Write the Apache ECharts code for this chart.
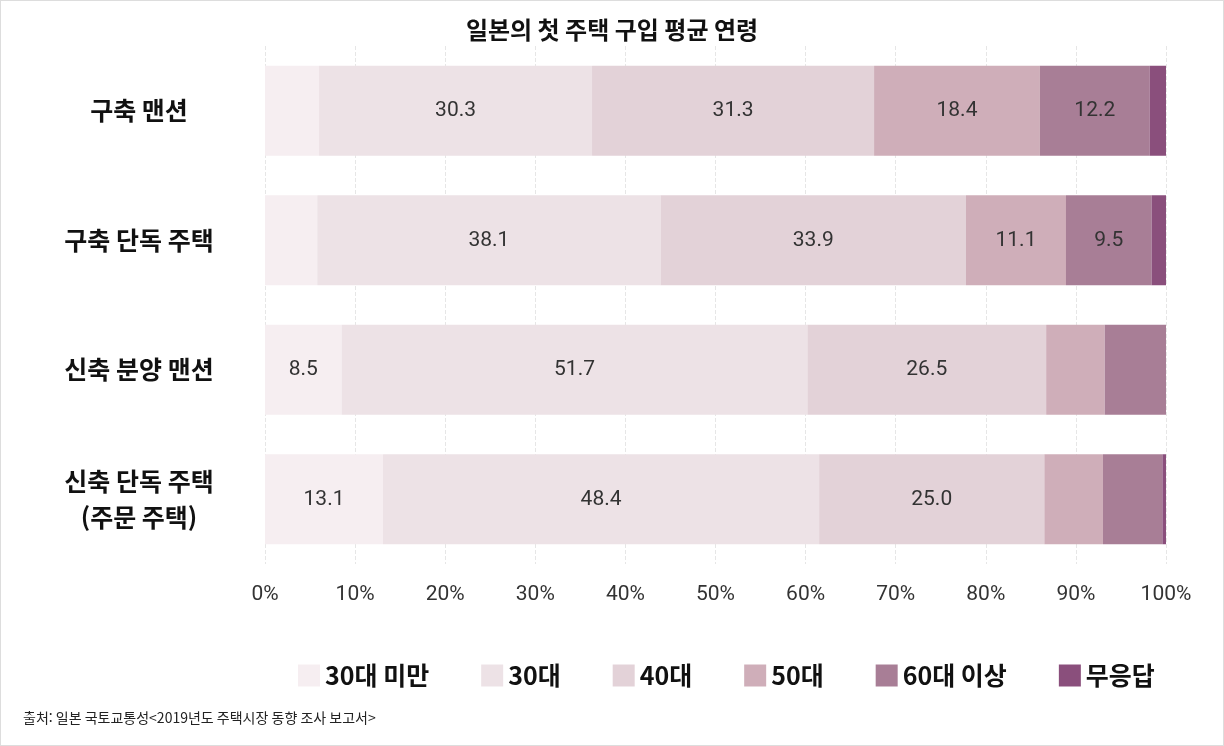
<!DOCTYPE html>
<html lang="ko">
<head>
<meta charset="UTF-8">
<title>일본의 첫 주택 구입 평균 연령</title>
<script src="https://cdn.jsdelivr.net/npm/echarts@6/dist/echarts.min.js"></script>
<style>
  html, body { margin: 0; padding: 0; background: #fff; }
  #main { width: 1222px; height: 744px; border: 1px solid #ddd; }
</style>
</head>
<body>
<div id="main"></div>
<script>
var categories = ['구축 맨션', '구축 단독 주택', '신축 분양 맨션', '신축 단독 주택\n(주문 주택)'];
var seriesNames = ['30대 미만', '30대', '40대', '50대', '60대 이상', '무응답'];
var under30 = [6.0, 5.8, 8.5, 13.1];
var age30 = [30.3, 38.1, 51.7, 48.4];
var age40 = [31.3, 33.9, 26.5, 25.0];
var age50 = [18.4, 11.1, 6.5, 6.5];
var over60 = [12.2, 9.5, 6.8, 6.6];
var noAnswer = [1.8, 1.6, 0, 0.4];
var xTicks = [0, 10, 20, 30, 40, 50, 60, 70, 80, 90, 100];

var values = [under30, age30, age40, age50, over60, noAnswer];
var colors = ['#f6eef1', '#ede2e6', '#e3d2d8', '#cfaeb9', '#a87e96', '#8a4f7c'];
var font = '"Noto Sans CJK KR", "Noto Sans", sans-serif';

var chart = echarts.init(document.getElementById('main'));
var series = [];
for (var i = 0; i < seriesNames.length; i++) {
    series.push({
        name: seriesNames[i],
        type: 'bar',
        stack: 'total',
        barWidth: 90,
        data: values[i],
        itemStyle: { color: colors[i] },
        label: {
            show: true,
            color: '#333',
            fontSize: 21,
            fontFamily: 'Roboto, sans-serif',
            formatter: function (p) { return p.value >= 8 ? p.value.toFixed(1) : ''; }
        }
    });
}

chart.setOption({
    animation: false,
    textStyle: { fontFamily: font },
    title: {
        text: '일본의 첫 주택 구입 평균 연령',
        left: 'center',
        top: 12,
        textStyle: { fontSize: 24, fontWeight: 'bold', color: '#111', fontFamily: font }
    },
    grid: { left: 264, right: 57, top: 45, bottom: 181 },
    xAxis: {
        type: 'value',
        min: 0, max: 100, interval: 10,
        axisLine: { show: false },
        axisTick: { show: false },
        splitLine: { show: true, lineStyle: { color: '#e6e6e6', type: 'dashed' } },
        axisLabel: {
            margin: 20, fontSize: 21, color: '#333', fontFamily: 'Roboto, sans-serif',
            formatter: function (v) { return xTicks.indexOf(v) >= 0 ? v + '%' : ''; }
        }
    },
    yAxis: {
        type: 'category',
        inverse: true,
        data: categories,
        axisLine: { show: false },
        axisTick: { show: false },
        axisLabel: {
            margin: 126, fontSize: 25, fontWeight: 'bold', color: '#111',
            align: 'center', lineHeight: 36
        }
    },
    legend: {
        bottom: 52,
        left: 292,
        itemWidth: 22, itemHeight: 22,
        itemGap: 52,
        icon: 'rect',
        textStyle: { fontSize: 25, fontWeight: 'bold', color: '#111', fontFamily: font },
        data: seriesNames
    },
    graphic: [{
        type: 'text',
        left: 22, bottom: 20,
        style: { text: '출처: 일본 국토교통성<2019년도 주택시장 동향 조사 보고서>', fontSize: 14, fill: '#222', fontFamily: font }
    }],
    series: series
});
</script>
</body>
</html>
